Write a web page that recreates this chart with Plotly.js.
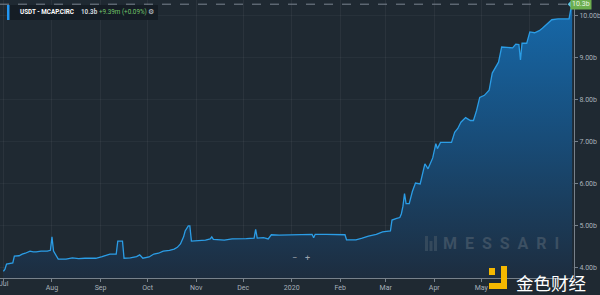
<!DOCTYPE html>
<html>
<head>
<meta charset="utf-8">
<script src="https://cdn.plot.ly/plotly-3.0.1.min.js"></script>
<style>html,body{margin:0;padding:0;background:#1f2932;}#chart{width:600px;height:295px;}</style>
</head>
<body>
<div id="chart"></div>
<script>
// USDT circulating market cap (billions USD)
const dates = [
  '2019-07-01','2019-07-02','2019-07-03','2019-07-05','2019-07-07','2019-07-08','2019-07-11','2019-07-13','2019-07-15','2019-07-18',
  '2019-07-20','2019-07-22','2019-07-25','2019-07-29','2019-07-31','2019-08-01','2019-08-02','2019-08-05','2019-08-08','2019-08-10',
  '2019-08-14','2019-08-18','2019-08-22','2019-08-26','2019-08-29','2019-09-02','2019-09-07','2019-09-11','2019-09-12','2019-09-15',
  '2019-09-16','2019-09-20','2019-09-24','2019-09-26','2019-09-28','2019-10-02','2019-10-05','2019-10-08','2019-10-11','2019-10-15',
  '2019-10-18','2019-10-20','2019-10-22','2019-10-24','2019-10-25','2019-10-27','2019-10-28','2019-10-29','2019-11-03','2019-11-07',
  '2019-11-10','2019-11-11','2019-11-12','2019-11-16','2019-11-19','2019-11-24','2019-11-29','2019-12-03','2019-12-08','2019-12-09',
  '2019-12-10','2019-12-14','2019-12-17','2019-12-19','2019-12-24','2020-01-01','2020-01-07','2020-01-14','2020-01-15','2020-01-16',
  '2020-01-23','2020-01-31','2020-02-04','2020-02-05','2020-02-11','2020-02-15','2020-02-19','2020-02-24','2020-02-28','2020-03-04',
  '2020-03-05','2020-03-08','2020-03-10','2020-03-11','2020-03-12','2020-03-13','2020-03-14','2020-03-16','2020-03-18','2020-03-20',
  '2020-03-23','2020-03-26','2020-03-28','2020-03-31','2020-04-02','2020-04-03','2020-04-05','2020-04-09','2020-04-12','2020-04-14',
  '2020-04-16','2020-04-18','2020-04-21','2020-04-24','2020-04-26','2020-04-28','2020-04-30','2020-05-03','2020-05-06','2020-05-08',
  '2020-05-10','2020-05-12','2020-05-14','2020-05-18','2020-05-21','2020-05-23','2020-05-25','2020-05-26','2020-05-27','2020-05-30',
  '2020-06-01','2020-06-04','2020-06-07','2020-06-09','2020-06-12','2020-06-15','2020-06-19','2020-06-23','2020-06-26','2020-06-27',
  '2020-06-28'
];
const mcapB = [
  3.90,3.95,4.07,4.08,4.10,4.26,4.27,4.31,4.33,4.38,
  4.36,4.36,4.38,4.38,4.40,4.72,4.38,4.19,4.18,4.19,
  4.22,4.20,4.21,4.20,4.21,4.25,4.31,4.31,4.62,4.62,
  4.21,4.22,4.25,4.29,4.21,4.24,4.31,4.33,4.38,4.40,
  4.43,4.47,4.55,4.72,4.86,4.98,4.98,4.62,4.63,4.64,
  4.67,4.72,4.66,4.65,4.64,4.67,4.67,4.68,4.69,4.90,
  4.69,4.70,4.67,4.77,4.76,4.77,4.77,4.78,4.70,4.78,
  4.78,4.78,4.77,4.65,4.65,4.69,4.74,4.78,4.84,4.86,
  5.12,5.16,5.18,5.27,5.45,5.75,5.51,5.51,5.80,6.00,
  5.98,6.46,6.34,6.60,6.94,6.82,6.97,6.97,6.97,7.21,
  7.30,7.45,7.56,7.49,7.49,7.73,8.04,8.09,8.21,8.62,
  8.75,8.88,9.24,9.23,9.22,9.31,9.30,8.93,9.33,9.33,
  9.60,9.58,9.63,9.69,9.79,9.89,9.91,9.91,9.91,10.12,
  10.26
];
// Jul label is drawn separately (cut by the left edge); Jun is hidden under the watermark
const monthTicks = ['2019-07-01','2019-08-01','2019-09-01','2019-10-01','2019-11-01','2019-12-01','2020-01-01','2020-02-01','2020-03-01','2020-04-01','2020-05-01','2020-06-01'];
const monthLabels = ['','Aug','Sep','Oct','Nov','Dec','2020','Feb','Mar','Apr','May',''];
const firstMonthLabel = 'Jul';
const yTicks = [4,5,6,7,8,9,10];
const yLabels = ['4.00b','5.00b','6.00b','7.00b','8.00b','9.00b','10.00b'];
const lastLabel = '10.3b';
const changeText = '+9.39m (+0.09%)';
const seriesName = 'USDT - MCAP.CIRC';

const lastDate = dates[dates.length-1];
const lastVal = mcapB[mcapB.length-1];

// pixel helpers for decorations (plot area 574 x 278)
const PW = 574, PH = 278;
const px = v => v / PW;
const py = v => 1 - v / PH;

const traces = [
  {
    x: dates, y: mcapB, type: 'scatter', mode: 'lines',
    line: {color: '#2b9de6', width: 1.3, shape: 'linear'},
    fill: 'tozeroy',
    fillgradient: {type: 'vertical', start: 3.74, stop: 10.36,
      colorscale: [[0, 'rgba(29,45,63,1)'], [0.5, 'rgba(24,76,120,1)'], [1, 'rgba(22,106,172,1)']]},
    hoverinfo: 'skip', showlegend: false
  },
  {
    x: [lastDate], y: [lastVal], type: 'scatter', mode: 'markers',
    marker: {symbol: 'diamond', size: 7, color: '#5ec8e8'},
    hoverinfo: 'skip', showlegend: false, cliponaxis: false
  }
];

const layout = {
  width: 600, height: 295,
  margin: {l: 0, r: 26, t: 0, b: 17},
  paper_bgcolor: '#1f2932', plot_bgcolor: '#1f2932',
  font: {family: 'Roboto, "Noto Sans", sans-serif', color: '#aab3bc', size: 7},
  xaxis: {
    type: 'date', range: ['2019-06-28 20:00', '2020-06-29 04:00'],
    tickvals: monthTicks, ticktext: monthLabels,
    ticks: 'outside', ticklen: 3, tickcolor: '#77818b',
    showline: true, linecolor: '#77818b', linewidth: 1,
    showgrid: true, gridcolor: 'rgba(255,255,255,0.05)',
    zeroline: false, tickfont: {size: 7, color: '#a8b1ba'}, fixedrange: true
  },
  yaxis: {
    side: 'right', range: [3.74, 10.36],
    tickvals: yTicks, ticktext: yLabels,
    ticks: 'outside', ticklen: 3, tickcolor: '#77818b',
    showline: true, linecolor: '#77818b', linewidth: 1,
    showgrid: true, gridcolor: 'rgba(255,255,255,0.04)',
    zeroline: false, tickfont: {size: 7, color: '#a8b1ba'}, fixedrange: true
  },
  shapes: [
    {type: 'line', xref: 'paper', yref: 'y', x0: 0, x1: 1, y0: lastVal, y1: lastVal,
     line: {color: '#7a8590', width: 1, dash: 'dash'}},
    {type: 'rect', xref: 'paper', yref: 'paper', x0: px(7), x1: px(158), y0: py(20), y1: py(5),
     fillcolor: '#151d25', line: {width: 0}},
    {type: 'rect', xref: 'paper', yref: 'paper', x0: px(7), x1: px(9.5), y0: py(20), y1: py(5),
     fillcolor: '#2196f3', line: {width: 0}},
    {type: 'rect', xref: 'paper', yref: 'paper', x0: px(425), x1: px(428), y0: py(251), y1: py(236),
     fillcolor: '#34495c', line: {width: 0}},
    {type: 'rect', xref: 'paper', yref: 'paper', x0: px(429.5), x1: px(432.5), y0: py(251), y1: py(241),
     fillcolor: '#34495c', line: {width: 0}},
    {type: 'rect', xref: 'paper', yref: 'paper', x0: px(434), x1: px(437), y0: py(251), y1: py(236),
     fillcolor: '#34495c', line: {width: 0}},
    {type: 'rect', xref: 'paper', yref: 'paper', x0: px(489), x1: px(495), y0: py(275), y1: py(268),
     fillcolor: '#f5b800', line: {width: 0}},
    {type: 'rect', xref: 'paper', yref: 'paper', x0: px(501), x1: px(507), y0: py(289), y1: py(266),
     fillcolor: '#f5b800', line: {width: 0}},
    {type: 'rect', xref: 'paper', yref: 'paper', x0: px(489), x1: px(507), y0: py(289), y1: py(283),
     fillcolor: '#f5b800', line: {width: 0}}
  ],
  annotations: [
    {xref: 'paper', yref: 'paper', x: px(18), y: py(12.5), xanchor: 'left', yanchor: 'middle', showarrow: false,
     text: '<b>' + seriesName + '</b>', font: {size: 6.3, color: '#ffffff'}},
    {xref: 'paper', yref: 'paper', x: px(79), y: py(12.5), xanchor: 'left', yanchor: 'middle', showarrow: false,
     text: '<b>' + lastLabel + '</b>', font: {size: 6.3, color: '#d0d6dc'}},
    {xref: 'paper', yref: 'paper', x: px(97), y: py(12.5), xanchor: 'left', yanchor: 'middle', showarrow: false,
     text: changeText, font: {size: 6.3, color: '#74c36a'}},
    {xref: 'paper', yref: 'paper', x: px(151), y: py(12.5), xanchor: 'center', yanchor: 'middle', showarrow: false,
     text: '⚙', font: {family: 'DejaVu Sans', size: 7, color: '#c8ced4'}},
    {xref: 'paper', yref: 'y', x: px(570), y: lastVal, xanchor: 'left', yanchor: 'middle', showarrow: false,
     text: lastLabel, bgcolor: '#6cae4f', borderpad: 1, font: {size: 7, color: '#eaf5e4'}},
    {xref: 'paper', yref: 'paper', x: px(3.5), y: py(284), xanchor: 'center', yanchor: 'middle', showarrow: false,
     text: firstMonthLabel, font: {size: 7, color: '#a8b1ba'}},
    {xref: 'paper', yref: 'paper', x: px(294), y: py(265), showarrow: false, text: '−', font: {size: 9, color: '#9aa4ae'}},
    {xref: 'paper', yref: 'paper', x: px(307), y: py(265), showarrow: false, text: '+', font: {size: 9, color: '#9aa4ae'}},
    {xref: 'paper', yref: 'paper', x: px(441), y: py(243), xanchor: 'left', yanchor: 'middle', showarrow: false,
     text: 'M&nbsp;&nbsp;E&nbsp;&nbsp;S&nbsp;&nbsp;S&nbsp;&nbsp;A&nbsp;&nbsp;R&nbsp;&nbsp;I', font: {family: 'Roboto, sans-serif', size: 16, color: '#3c5063', weight: 700}},
    {xref: 'paper', yref: 'paper', x: px(514), y: py(282), xanchor: 'left', yanchor: 'middle', showarrow: false,
     text: '金色财经', font: {family: '"Noto Sans CJK SC"', size: 17.5, color: '#ffffff'}}
  ]
};

Plotly.newPlot('chart', traces, layout, {staticPlot: true, displayModeBar: false});
</script>
</body>
</html>
